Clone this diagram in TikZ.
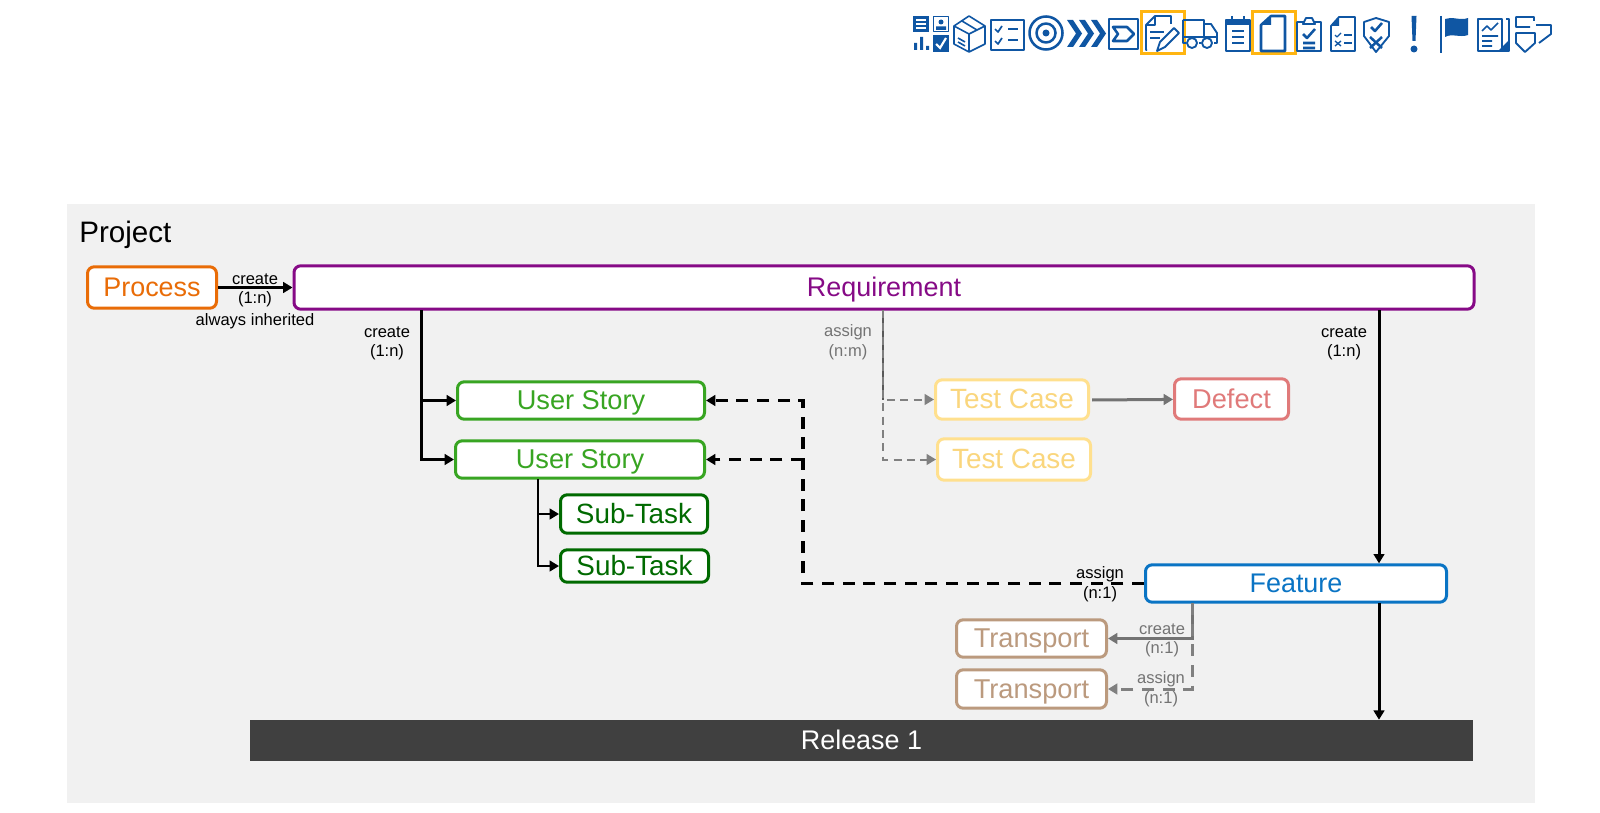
\documentclass[tikz,border=0pt]{standalone}
\usepackage{fontspec}
\setmainfont{Liberation Sans}
\usetikzlibrary{arrows.meta}
\definecolor{iconblue}{HTML}{0F56A3}
\definecolor{markyellow}{HTML}{FFB511}
\definecolor{procorange}{HTML}{E96C07}
\definecolor{reqpurple}{HTML}{860A86}
\definecolor{storygreen}{HTML}{38A522}
\definecolor{taskgreen}{HTML}{006A00}
\definecolor{testline}{HTML}{FFE08E}
\definecolor{testtext}{HTML}{FAD67D}
\definecolor{defectred}{HTML}{E07A7A}
\definecolor{featblue}{HTML}{0A74C4}
\definecolor{transbrown}{HTML}{BB9A7E}
\definecolor{projectgray}{HTML}{F1F1F1}
\tikzset{
  box/.style={draw=#1,text=#1,fill=white,line width=2.25pt,rounded corners=5pt,inner sep=0pt,
    text height=16pt,text depth=2pt},
  lab/.style={font=\fontsize{12.4}{14}\selectfont,inner sep=0pt},
  link/.style={line width=2.25pt,-{Triangle[length=7pt,width=8pt]}},
  dlink/.style={link,line width=2.4pt,dash pattern=on 9pt off 6.5pt},
  ico/.style={draw=iconblue,line width=1.9pt,line join=round},
  icof/.style={fill=iconblue}
}
\begin{document}
\begin{tikzpicture}[x=.75pt,y=-.75pt]
  \useasboundingbox (0,0) rectangle (1600,813);
  \fill[projectgray] (67,204) rectangle (1535,803);
  \node[anchor=west,inner sep=0pt,font=\fontsize{22.2}{26}\selectfont] (project) at (79,235) {Project};
  \foreach \n/\x/\y/\w/\h/\c/\s/\t in {
    proc/152/287.5/127/40/procorange/20.2/Process,
    req/884/287.5/1178/42/reqpurple/20.2/Requirement,
    usa/581/400.5/245/36/storygreen/20.4/User Story,
    usb/580/459.5/247/36/storygreen/20.4/User Story,
    suba/634/514/145/37/taskgreen/20.9/Sub-Task,
    subb/634.5/566/146/31/taskgreen/20.9/Sub-Task,
    feat/1296/583.5/299/36/featblue/20.2/Feature,
    transa/1031.5/638.5/148/36/transbrown/20.4/Transport,
    transb/1031.5/689/148/37/transbrown/20.4/Transport,
    defect/1231.5/399/112/39/defectred/20.4/Defect}{
    \node[box=\c,font=\fontsize{\s}{24}\selectfont,minimum width=\w*.75pt+1.5pt,minimum height=\h*.75pt+1pt] (\n) at (\x,\y) {\t};
  }
  \node[box=testline,text=testtext,font=\fontsize{20.9}{24}\selectfont,minimum width=151*.75pt+1.5pt,minimum height=38*.75pt+1pt] (testa) at (1012,399.5) {Test Case};
  \node[box=testline,text=testtext,font=\fontsize{20.9}{24}\selectfont,minimum width=151*.75pt+1.5pt,minimum height=40*.75pt+1pt] (testb) at (1014,459.5) {Test Case};
  \node[fill=black!75,text=white,inner sep=0pt,minimum width=1223*.75pt,minimum height=41*.75pt,
    font=\fontsize{20.2}{24}\selectfont,text height=16pt,text depth=2pt] (rel) at (861.5,740.5) {Release 1};

  \coordinate (reqa) at (421,310);
  \coordinate (reqb) at (883,310);
  \coordinate (reqc) at (1379,310);
  \coordinate (usstem) at (538,479);
  \coordinate (join) at (803,583.5);
  \coordinate (joinb) at (803,459.5);
  \coordinate (feata) at (1379,603);
  \coordinate (featb) at (1192,603);
  \coordinate (tc) at (1092,400);

  \draw[link] (proc)--(req);
  \draw[link] (reqa)|-(usa);
  \draw[link] (reqa)|-(usb);
  \draw[link,line width=1.5pt] (usstem)|-(suba);
  \draw[link,line width=1.5pt] (usstem)|-(subb);
  \draw[link] (reqc)--(feat.north -| reqc);
  \draw[link] (feata)--(rel.north -| feata);
  \draw[dlink] (feat)--(join)|-(usa);
  \draw[dlink] (joinb)--(usb);
  \draw[link,black!55] (tc)--(defect);
  \draw[black!65,line width=1.2pt] (reqb)--(reqb |- testa);
  \draw[link,black!50,line width=1.5pt,dash pattern=on 6pt off 4pt] (reqb)|-(testa);
  \draw[link,black!50,line width=1.5pt,dash pattern=on 6pt off 4pt] (reqb)|-(testb);
  \draw[link,black!55] (featb)|-(transa);
  \draw[dlink,line width=2.25pt,black!50] (featb)|-(transb);

  \foreach \n/\x/\y/\t in {
    la/255/279/create, lb/255/299/(1:n), lc/255/321/always inherited,
    ld/387/332/create, le/387/352/(1:n),
    lf/1344/332/create, lg/1344/352/(1:n),
    lh/1100/574/assign, li/1100/594/(n:1)}{
    \node[lab] (\n) at (\x,\y) {\t};
  }
  \foreach \n/\x/\y/\t in {
    lj/848/332/assign, lk/848/352/(n:m),
    ll/1162/629/create, lm/1162/649/(n:1),
    ln/1161/679/assign, lo/1161/699/(n:1)}{
    \node[lab,text=black!55] (\n) at (\x,\y) {\t};
  }

  \draw[markyellow,line width=2.25pt] (1141,12) rectangle (1184,54);
  \draw[markyellow,line width=2.25pt] (1252,12) rectangle (1295,54);

  \fill[icof] (913,16) rectangle (929,32);
  \foreach \y in {20,24,28}{\draw[white,line width=1.2pt] (916,\y)--(926,\y);}
  \draw[ico,line width=1pt] (933.5,16.5) rectangle (948.5,31.5);
  \fill[icof] (941,22) circle (2.5) (936,30) rectangle (946,26.5);
  \fill[icof] (914,43) rectangle (917,50) (920,37) rectangle (923,50) (926,46) rectangle (929,50);
  \fill[icof] (933,35) rectangle (949,52);
  \draw[white,line width=1.6pt] (936,44)--(940,48)--(946,38);

  \draw[ico,line width=1.2pt] (954,26)--(969,16)--(985,26)--(985,44)--(969,52)--(954,44)--cycle
    (954,26)--(969,34)--(985,26) (969,34)--(969,52) (962,21)--(977,30) (958,38)--(965,42) (958,42)--(965,46);

  \draw[ico] (991,20) rectangle (1024,50);
  \draw[ico,line width=1.3pt] (995,29)--(998,32)--(1002,26) (995,41)--(998,44)--(1002,38);
  \draw[ico] (1008,29)--(1018,29) (1008,40)--(1018,40);

  \draw[ico] (1046,33) circle (16.5) (1046,33) circle (9.5);
  \fill[icof] (1046,33) circle (3.5);

  \foreach \x in {0,12,24}{
    \fill[icof] (1067+\x,20)--(1073+\x,20)--(1082+\x,33.5)--(1073+\x,47)--(1067+\x,47)--(1076+\x,33.5)--cycle;
  }

  \draw[ico] (1109,19) rectangle (1138,49);
  \draw[ico] (1113,27)--(1127,27)--(1134,34)--(1127,41)--(1113,41)--(1118,34)--cycle;

  \draw[ico,line width=1.4pt] (1147,50)--(1146,50)--(1146,25)--(1155,16)--(1171,16)--(1171,24) (1155,16)--(1155,25)--(1146,25);
  \draw[ico,line width=1.2pt] (1150,32)--(1164,32) (1150,38)--(1160,38);
  \draw[ico,line width=1.4pt] (1157,51)--(1160,42)--(1174,28)--(1179,33)--(1165,47)--cycle;

  \draw[ico,line width=1.4pt] (1183,20)--(1204,20)--(1204,37) (1183,20)--(1183,43)--(1186,43)
    (1183,37)--(1217,37) (1204,24)--(1211,24)--(1217,33)--(1217,43)--(1214,43) (1199,43)--(1201,43);
  \draw[ico,line width=1.4pt,fill=white] (1192,43) circle (5) (1207,43) circle (5);

  \draw[ico] (1226,20) rectangle (1250,51);
  \fill[icof] (1226,20) rectangle (1250,25);
  \draw[ico] (1232,16)--(1232,22) (1244,16)--(1244,22);
  \draw[ico] (1232,31)--(1244,31) (1232,37)--(1244,37) (1232,43)--(1244,43);

  \draw[ico] (1261,25)--(1271,16)--(1285,16)--(1285,51)--(1261,51)--cycle;
  \fill[icof] (1261,25)--(1271,16)--(1271,25)--cycle;

  \draw[ico,line width=1.4pt] (1304,22)--(1297,22)--(1297,51)--(1321,51)--(1321,22)--(1314,22)
    (1303,24)--(1315,24)--(1312,18)--(1306,18)--cycle;
  \draw[ico] (1303,34)--(1307,38)--(1315,29) (1303,43)--(1315,43) (1303,48)--(1315,48);

  \draw[ico,line width=1.4pt] (1331,26)--(1339,17)--(1355,17)--(1355,51)--(1331,51)--cycle;
  \fill[icof] (1331,26)--(1339,17)--(1339,26)--cycle;
  \draw[ico,line width=1pt] (1335,35)--(1337,37)--(1341,33) (1335,41)--(1341,46) (1341,41)--(1335,46);
  \draw[ico] (1344,35)--(1352,35) (1344,43)--(1352,43);

  \draw[ico,line width=1.4pt] (1376,18)--(1389,22)--(1389,36)--(1376,52)--(1364,36)--(1364,22)--cycle;
  \draw[ico] (1371,27)--(1375,31)--(1382,23) (1370,37)--(1382,48) (1382,37)--(1370,48);

  \fill[icof] (1411.5,16)--(1416.5,16)--(1415.5,41)--(1412.5,41)--cycle (1414,49) circle (3.5);

  \draw[ico,line width=1.3pt] (1441,16)--(1441,53);
  \fill[icof] (1445,19)..controls (1452,16) and (1460,21)..(1468,18)--(1468,35)..controls (1460,38) and (1452,33)..(1445,37)--cycle;

  \draw[ico,line width=1.4pt] (1478,19) rectangle (1502,51) (1506,19)--(1509,19)--(1509,51)--(1502,51);
  \draw[ico,line width=1.2pt] (1482,31)--(1487,26)--(1491,30)--(1498,23) (1482,36)--(1498,36) (1482,41)--(1492,41) (1482,46)--(1492,46);
  \fill[icof] (1509,40)--(1509,51)--(1498,51)--cycle;

  \draw[ico,line width=1.4pt] (1534,21)--(1534,17)--(1516,17)--(1516,27)--(1530,27)
    (1536,25)--(1551,25)--(1551,34)--(1539,43)
    (1516,33)--(1535,33)--(1535,43)--(1525,52)--(1516,43)--cycle;
\end{tikzpicture}
\end{document}
